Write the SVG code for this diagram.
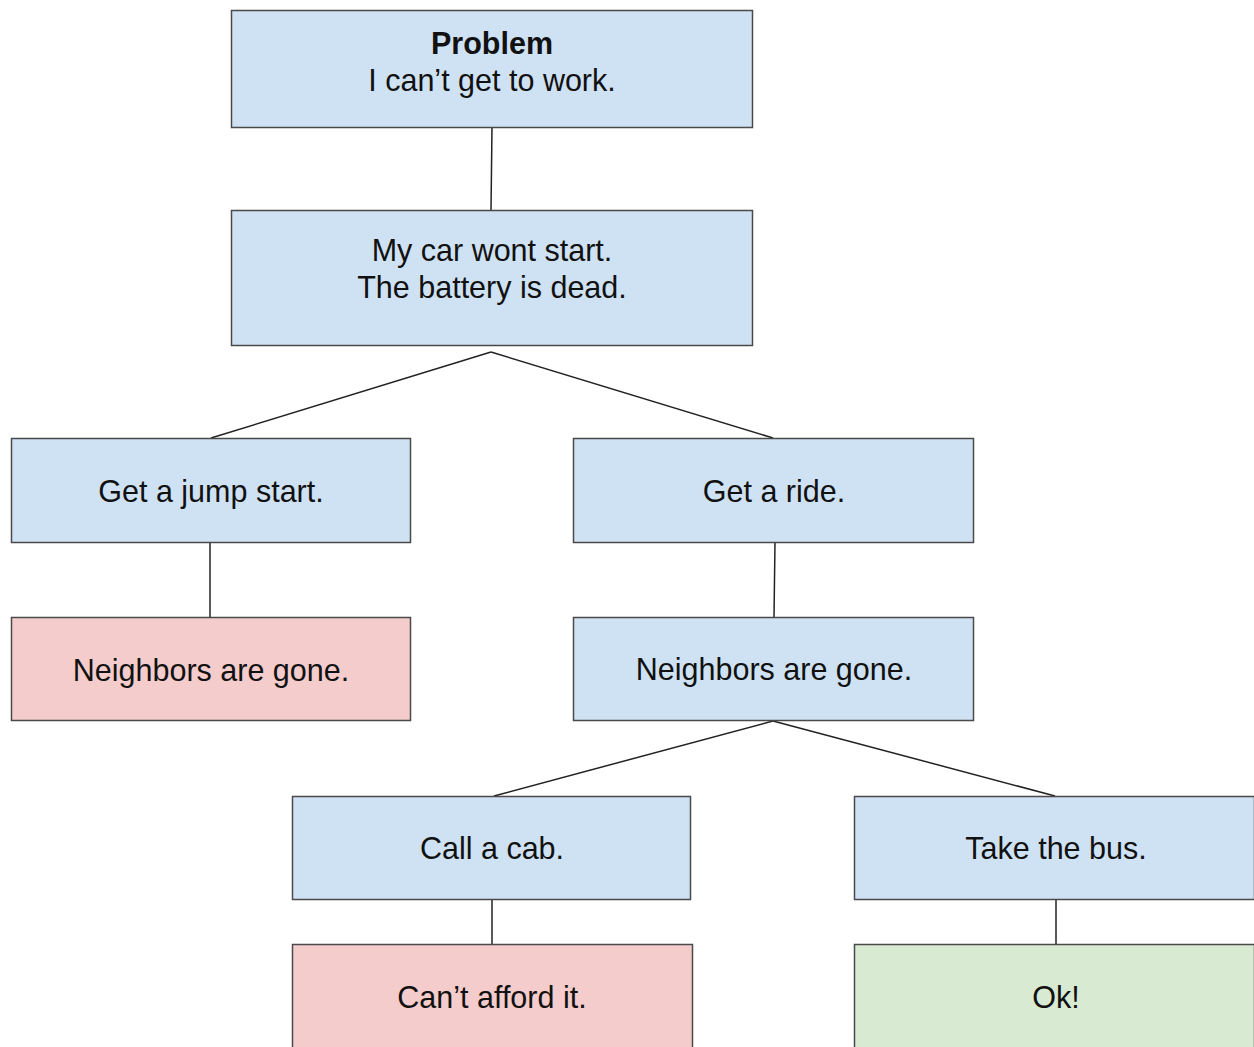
<svg xmlns="http://www.w3.org/2000/svg" width="1254" height="1047" viewBox="0 0 1254 1047">
<style>
rect{stroke:#4a4a4a;stroke-width:1.5}
.b{fill:#cfe2f3}.p{fill:#f4cccc}.g{fill:#d9ead3}
text{font-family:"Liberation Sans",Arial,sans-serif;font-size:30.5px;fill:#111;text-anchor:middle}
.bold{font-weight:bold}
#edges line{stroke:#222;stroke-width:1.5}
</style>
<rect x="0" y="0" width="1254" height="1047" fill="#fff" style="stroke:none"/>
<g id="edges">
<line x1="492" y1="127" x2="491" y2="210"/>
<line x1="491" y1="352" x2="211" y2="438"/>
<line x1="491" y1="352" x2="773" y2="438"/>
<line x1="210" y1="542" x2="210" y2="617"/>
<line x1="775" y1="542" x2="774" y2="617"/>
<line x1="773" y1="721" x2="494" y2="796"/>
<line x1="773" y1="721" x2="1055" y2="796"/>
<line x1="492" y1="899" x2="492" y2="944"/>
<line x1="1056" y1="899" x2="1056" y2="944"/>
</g>
<g id="n1"><rect class="b" x="231.5" y="10.5" width="521" height="117"/><text x="492" y="54" class="bold">Problem</text><text x="492" y="91">I can’t get to work.</text></g>
<g id="n2"><rect class="b" x="231.5" y="210.5" width="521" height="135"/><text x="492" y="261">My car wont start.</text><text x="492" y="298">The battery is dead.</text></g>
<g id="n3"><rect class="b" x="11.5" y="438.5" width="399" height="104"/><text x="211" y="502">Get a jump start.</text></g>
<g id="n4"><rect class="b" x="573.5" y="438.5" width="400" height="104"/><text x="774" y="502">Get a ride.</text></g>
<g id="n5"><rect class="p" x="11.5" y="617.5" width="399" height="103"/><text x="211" y="681">Neighbors are gone.</text></g>
<g id="n6"><rect class="b" x="573.5" y="617.5" width="400" height="103"/><text x="774" y="680">Neighbors are gone.</text></g>
<g id="n7"><rect class="b" x="292.5" y="796.5" width="398" height="103"/><text x="492" y="859">Call a cab.</text></g>
<g id="n8"><rect class="b" x="854.5" y="796.5" width="400" height="103"/><text x="1056" y="859">Take the bus.</text></g>
<g id="n9"><rect class="p" x="292.5" y="944.5" width="400" height="110"/><text x="492" y="1008">Can’t afford it.</text></g>
<g id="n10"><rect class="g" x="854.5" y="944.5" width="400" height="110"/><text x="1056" y="1008">Ok!</text></g>
</svg>
